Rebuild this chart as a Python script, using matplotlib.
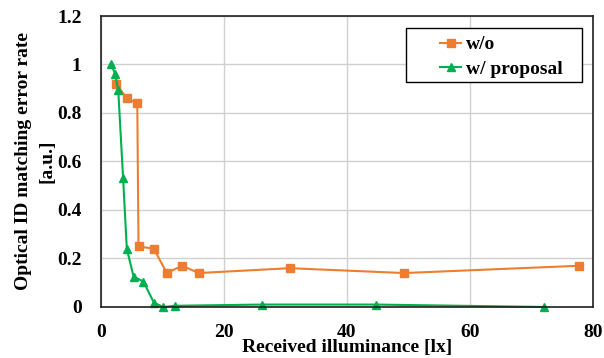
import matplotlib.pyplot as plt
from matplotlib.patches import Rectangle

plt.rcParams['font.family'] = ['Liberation Serif', 'DejaVu Serif']
plt.rcParams['font.weight'] = 'bold'

wo_x = [2.5, 4.2, 5.9, 6.1, 8.6, 10.7, 13.2, 15.9, 30.7, 49.3, 77.7]
wo_y = [0.92, 0.86, 0.84, 0.25, 0.24, 0.14, 0.17, 0.14, 0.16, 0.14, 0.17]
wp_x = [1.7, 2.3, 2.8, 3.6, 4.2, 5.3, 6.9, 8.6, 10.1, 12.1, 26.1, 44.7, 72.0]
wp_y = [1.0, 0.96, 0.895, 0.53, 0.24, 0.125, 0.105, 0.018, 0.0, 0.005, 0.01, 0.01, 0.0]

fig = plt.figure(figsize=(6.04, 3.58), dpi=100)
ax = fig.add_axes([0.1672, 0.1425, 0.8146, 0.8128])
ax.plot(wo_x, wo_y, color='#ED7D31', marker='s', markersize=6, lw=1.5, label='w/o', clip_on=False)
ax.plot(wp_x, wp_y, color='#00B050', marker='^', markersize=6, lw=1.5, label='w/ proposal', clip_on=False)
ax.set_xlim(0, 80)
ax.set_ylim(0, 1.2)
ax.set_xticks([0, 20, 40, 60, 80])
ax.set_yticks([0, 0.2, 0.4, 0.6, 0.8, 1.0, 1.2])
ax.set_yticklabels(['0', '0.2', '0.4', '0.6', '0.8', '1', '1.2'])
ax.grid(True, color='#D0D0D0', lw=1)
ax.set_axisbelow(True)
ax.tick_params(axis='y', length=0, labelsize=14, pad=14)
ax.tick_params(axis='x', length=0, labelsize=14, pad=12)
for s in ax.spines.values():
    s.set_color('#202020')
    s.set_linewidth(1.2)
ax.set_xlabel('Received illuminance [lx]', fontsize=14, fontweight='bold', labelpad=-1)
ax.set_ylabel('Optical ID matching error rate\n[a.u.]', fontsize=14, fontweight='bold', labelpad=1,
              linespacing=1.5)

# legend box drawn separately (wide left padding like the original)
fig.patches.append(Rectangle((0.672, 0.771), 0.291, 0.151, transform=fig.transFigure,
                             facecolor='white', edgecolor='black', lw=1.0, zorder=3))
leg = fig.legend(loc='upper left', bbox_to_anchor=(0.713, 0.927), fontsize=14, frameon=False,
                 handlelength=1.05, borderpad=0, labelspacing=0.35, handletextpad=0.25)
leg.set_zorder(4)
fig.savefig('out.png', dpi=100)
